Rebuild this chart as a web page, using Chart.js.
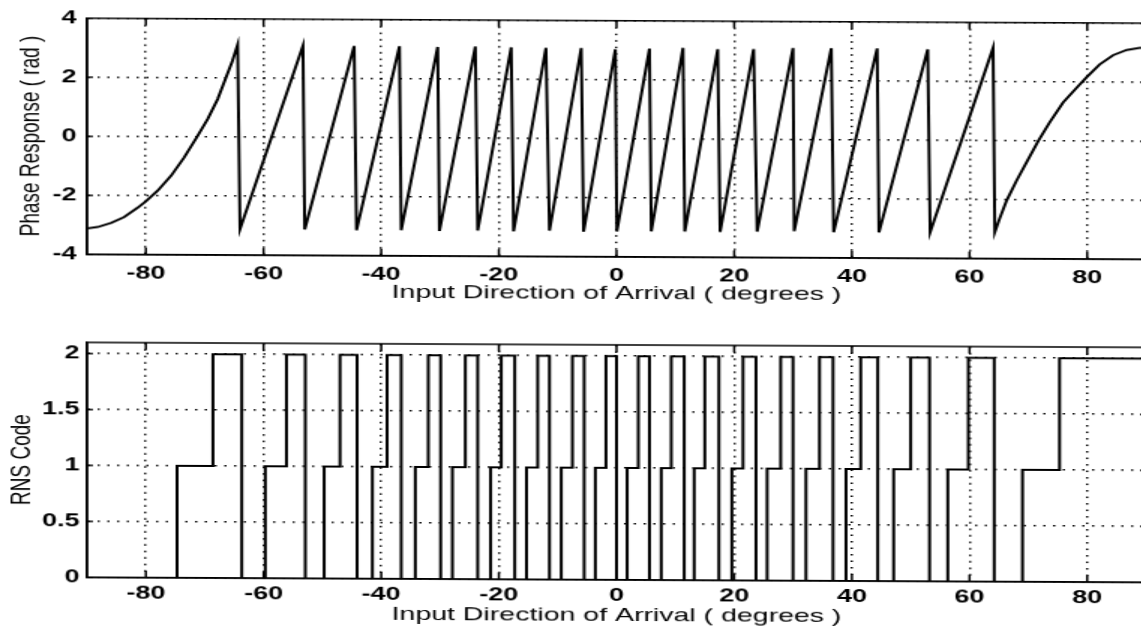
<!DOCTYPE html>
<html>
<head>
<meta charset="utf-8">
<script src="https://cdn.jsdelivr.net/npm/chart.js@4.4.1/dist/chart.umd.min.js"></script>
<style>
  html, body { margin: 0; padding: 0; background: #fff; overflow: hidden; width: 1141px; height: 631px; }
  /* the scanned figure is stretched sideways and a little skewed */
  #wrap { position: absolute; left: 0; top: 0; width: 770px; height: 631px;
          transform-origin: 0 0; transform: skewY(0.27deg) scaleX(1.5); }
  canvas { position: absolute; left: 0; }
  #phase { top: 0; }
  #code { top: 310px; }
</style>
</head>
<body>
<div id="wrap">
  <canvas id="phase" width="770" height="310"></canvas>
  <canvas id="code" width="770" height="321"></canvas>
</div>
<script>
// x axis (degrees) shared by both plots
const xTicks = [-80, -60, -40, -20, 0, 20, 40, 60, 80];

// top plot: wrapped phase response, vertices
const phaseDeg = [
  -90, -88.2, -85.9, -83.7, -81.4, -80, -78.0, -75.7, -73.5, -71.3,
  -69.5, -67.8, -66.4, -65.3, -64.4,
  -64.0, -53.3, -53.0, -44.6, -44.2, -36.9, -36.6, -30.4, -30.1, -24.0,
  -23.6, -17.9, -17.5, -12.0, -11.4, -6.0, -5.6, -0.2, 0.05, 5.6,
  5.9, 11.3, 11.6, 17.2, 17.6, 23.3, 23.9, 30.0, 30.2, 36.5,
  36.9, 44.3, 44.6, 52.9, 53.3, 64.0, 64.3,
  65.1, 66.3, 68.0, 69.7, 71.7, 73.6, 75.9, 78.2, 79.9, 82.1,
  84.4, 86.7, 88.9, 90
];
const phaseRad = [
  -3.12, -3.07, -2.93, -2.73, -2.41, -2.19, -1.83, -1.32, -0.70, 0.0,
  0.60, 1.28, 2.0, 2.57, 3.13,
  -3.12, 3.1, -3.12, 3.1, -3.14, 3.1, -3.13, 3.08, -3.15, 3.1,
  -3.13, 3.08, -3.15, 3.07, -3.12, 3.07, -3.15, 3.03, -3.14, 3.06,
  -3.13, 3.09, -3.13, 3.05, -3.14, 3.06, -3.12, 3.1, -3.1, 3.1,
  -3.13, 3.1, -3.13, 3.08, -3.12, 3.14, -3.1,
  -2.65, -2.03, -1.35, -0.73, 0.0, 0.62, 1.30, 1.80, 2.16, 2.59,
  2.91, 3.09, 3.16, 3.16
];
const phaseTicks = [-4, -2, 0, 2, 4];

// bottom plot: RNS code, level switches at these angles
const codeEdges = [
  -74.7, -68.6, -63.7, -59.7, -56.1, -52.9, -49.7, -47.0, -44.1, -41.5,
  -39.0, -36.6, -34.2, -32.0, -29.9, -27.9, -25.7, -23.6, -21.4, -19.6,
  -17.3, -15.3, -13.4, -11.4, -9.4, -7.5, -5.5, -3.6, -1.8, 0.0,
  1.8, 3.7, 5.6, 7.6, 9.3, 11.5, 13.2, 15.0, 17.4, 19.6,
  21.5, 23.7, 25.6, 27.9, 30.0, 32.2, 34.5, 36.8, 39.0, 41.5,
  44.4, 47.1, 50.0, 53.2, 56.3, 59.8, 64.2, 69.0, 75.3
];
const codeLevels = [
  1, 2, 0, 1, 2, 0, 1, 2, 0, 1,
  2, 0, 1, 2, 0, 1, 2, 0, 1, 2,
  0, 1, 2, 0, 1, 2, 0, 1, 2, 0,
  1, 2, 0, 1, 2, 0, 1, 2, 0, 1,
  2, 0, 1, 2, 0, 1, 2, 0, 1, 2,
  0, 1, 2, 0, 1, 2, 0, 1, 2
];
const codeStart = 0;
const codeTicks = [0, 0.5, 1, 1.5, 2];

const FONT = "'Liberation Sans', Arial, Helvetica, sans-serif";

// closed box with inward tick marks, matlab style
const boxTicks = {
  id: 'boxTicks',
  afterDatasetsDraw(chart) {
    const ctx = chart.ctx;
    const a = chart.chartArea;
    const x = chart.scales.x, y = chart.scales.y;
    ctx.save();
    ctx.strokeStyle = '#000';
    ctx.lineWidth = 1.5;
    ctx.strokeRect(a.left, a.top, a.right - a.left, a.bottom - a.top);
    ctx.beginPath();
    x.ticks.forEach(t => {
      const px = x.getPixelForValue(t.value);
      ctx.moveTo(px, a.bottom); ctx.lineTo(px, a.bottom - 7);
      ctx.moveTo(px, a.top); ctx.lineTo(px, a.top + 7);
    });
    y.ticks.forEach(t => {
      const py = y.getPixelForValue(t.value);
      ctx.moveTo(a.left, py); ctx.lineTo(a.left + 4, py);
      ctx.moveTo(a.right, py); ctx.lineTo(a.right - 4, py);
    });
    ctx.stroke();
    ctx.restore();
  }
};

function makeChart(id, points, o) {
  const ctx = document.getElementById(id).getContext('2d');
  return new Chart(ctx, {
    type: 'line',
    data: {
      datasets: [{
        data: points,
        borderColor: '#000',
        borderWidth: 2,
        pointRadius: 0,
        tension: 0,
        fill: false
      }]
    },
    options: {
      responsive: false,
      animation: false,
      events: [],
      layout: { padding: { top: o.padTop, right: 6, bottom: 0, left: 0 } },
      plugins: { legend: { display: false }, tooltip: { enabled: false } },
      scales: {
        x: {
          type: 'linear',
          min: -90,
          max: 90,
          afterBuildTicks: s => { s.ticks = xTicks.map(v => ({ value: v })); },
          afterFit: s => { s.height = o.xHeight; },
          grid: { color: '#000', lineWidth: 1.5, drawTicks: false },
          border: { display: true, color: '#000', width: 1.5, dash: [1.5, 5] },
          ticks: {
            color: '#000', padding: o.xTickPad, maxRotation: 0,
            font: { family: FONT, size: 18, weight: 'bold' },
            callback: v => String(v)
          },
          title: {
            display: true,
            text: 'Input Direction of Arrival ( degrees )',
            color: '#000',
            font: { family: FONT, size: 19 },
            padding: { top: 0, bottom: o.xTitlePad }
          }
        },
        y: {
          type: 'linear',
          min: o.yMin,
          max: o.yMax,
          afterBuildTicks: s => { s.ticks = o.yTicks.map(v => ({ value: v })); },
          afterFit: s => { s.width = 58; },
          grid: { color: '#000', lineWidth: 1.5, drawTicks: false },
          border: { display: true, color: '#000', width: 1.5, dash: [1.5, 5] },
          ticks: {
            color: '#000', padding: o.yTickPad,
            font: { family: FONT, size: 18, weight: 'bold' },
            callback: v => String(v)
          },
          title: {
            display: true,
            text: o.yTitle,
            color: '#000',
            font: { family: FONT, size: 19 },
            padding: { top: o.yTitlePad, bottom: 0 }
          }
        }
      }
    },
    plugins: [boxTicks]
  });
}

const phasePoints = phaseDeg.map((d, i) => ({ x: d, y: phaseRad[i] }));

// corners of the step trace: old level then new level at each switch
const codePoints = [{ x: -90, y: codeStart }];
let level = codeStart;
codeEdges.forEach((e, i) => {
  codePoints.push({ x: e, y: level });
  level = codeLevels[i];
  codePoints.push({ x: e, y: level });
});
codePoints.push({ x: 90, y: level });

makeChart('phase', phasePoints, {
  padTop: 17, xHeight: 56, xTickPad: 8, xTitlePad: 8,
  yMin: -4, yMax: 4, yTicks: phaseTicks, yTickPad: 7, yTitlePad: 9,
  yTitle: 'Phase Response ( rad )'
});
makeChart('code', codePoints, {
  padTop: 32, xHeight: 54, xTickPad: 5, xTitlePad: 7,
  yMin: 0, yMax: 2.1, yTicks: codeTicks, yTickPad: 5, yTitlePad: 3,
  yTitle: 'RNS Code'
});
</script>
</body>
</html>
